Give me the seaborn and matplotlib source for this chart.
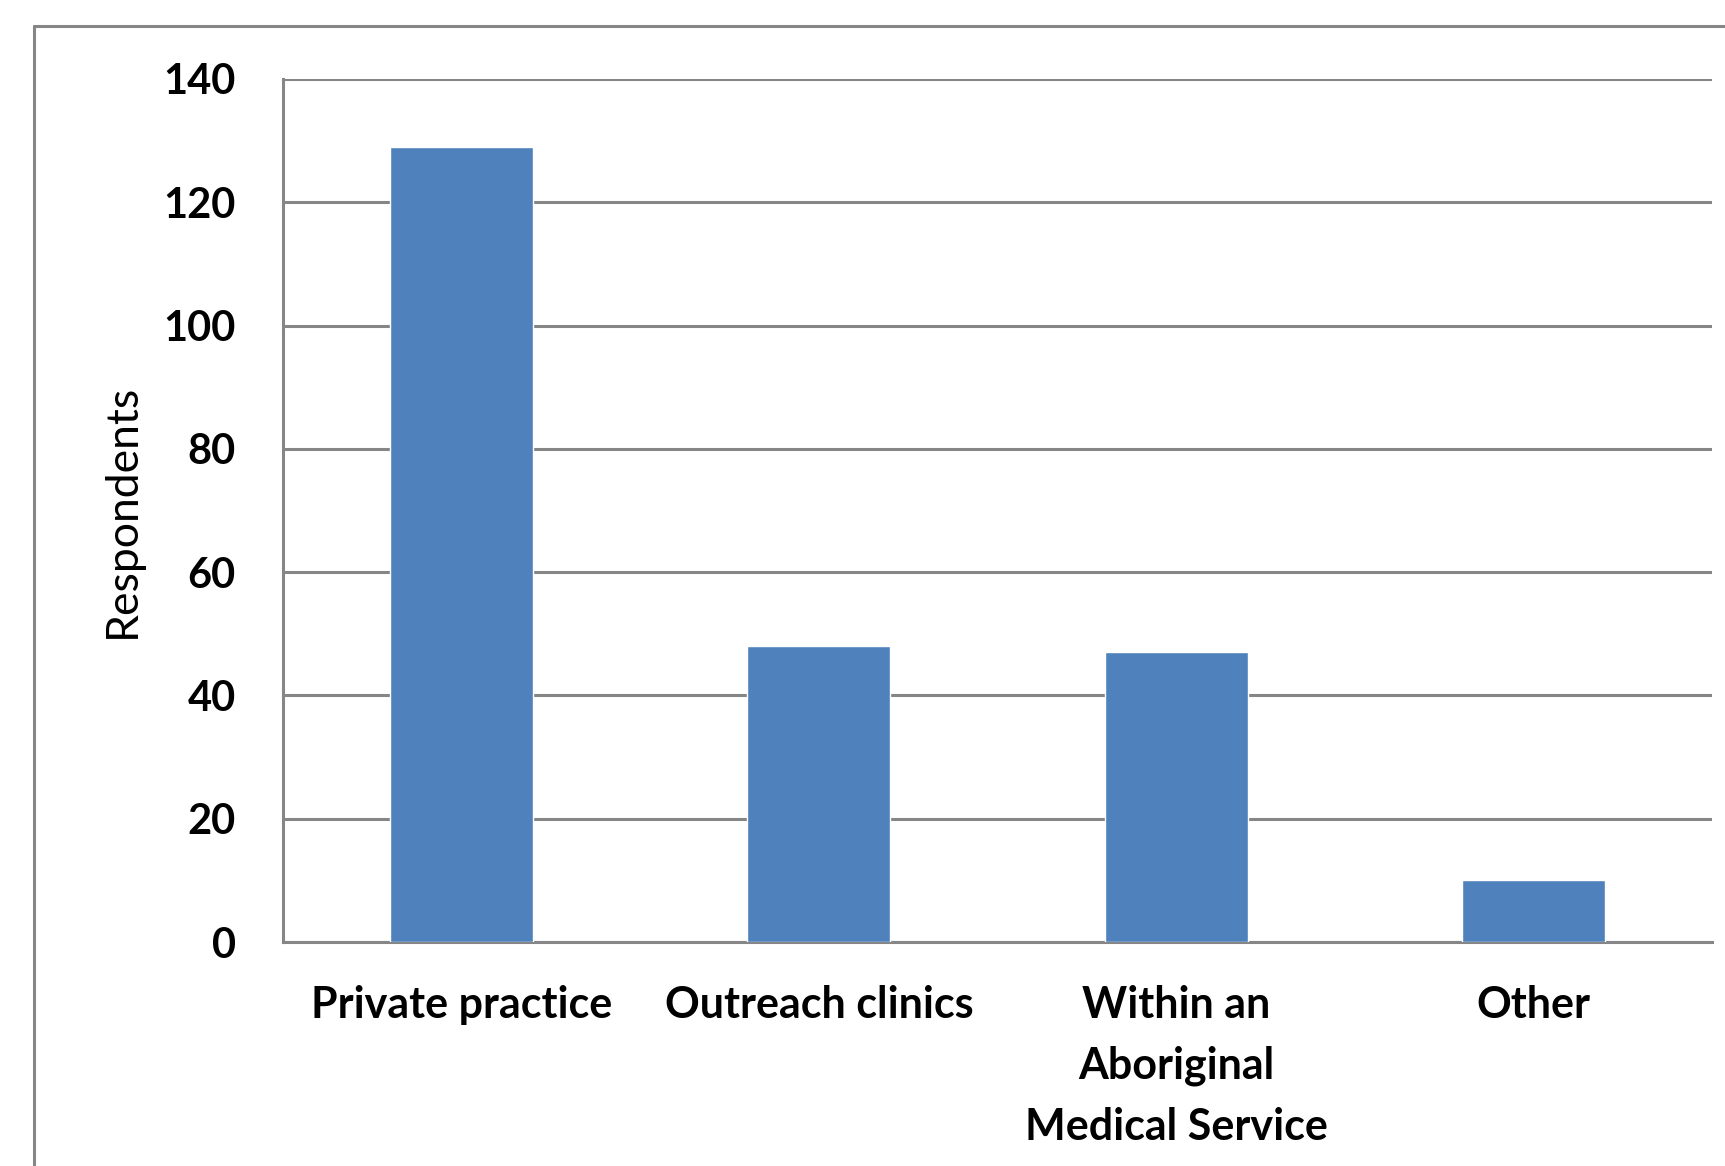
"""
Wykres słupkowy: miejsce pracy respondentów.
"""

import matplotlib
matplotlib.use('Agg')
import matplotlib.pyplot as plt
from matplotlib.lines import Line2D
from matplotlib.ticker import FixedLocator
import seaborn as sns
import pandas as pd

categories = ['Private practice', 'Outreach clinics',
              'Within an\nAboriginal\nMedical Service', 'Other']
respondents = [129, 48, 47, 10]
y_ticks = [0, 20, 40, 60, 80, 100, 120, 140]

BAR_COLOR = '#4F81BD'
GRID_COLOR = '#868686'

sns.set_style('white')
plt.rcParams['font.family'] = ['Lato', 'DejaVu Sans']

df = pd.DataFrame({'category': categories, 'respondents': respondents})

fig = plt.figure(figsize=(17.25, 11.66), dpi=100)
ax = fig.add_axes([283 / 1725, 1 - 942 / 1166, (1712 - 283) / 1725, (942 - 79) / 1166])

sns.barplot(data=df, x='category', y='respondents', color=BAR_COLOR,
            width=0.4, saturation=1, ax=ax, zorder=3)

ax.set_xlim(-0.5, len(categories) - 0.5)
ax.set_ylim(0, 140)
ax.set_yticks(y_ticks)
ax.yaxis.grid(True, color=GRID_COLOR, linewidth=2.2)
ax.set_axisbelow(True)

for side in ['top', 'right']:
    ax.spines[side].set_visible(False)
for side in ['left', 'bottom']:
    ax.spines[side].set_color(GRID_COLOR)
    ax.spines[side].set_linewidth(2.2)

# ticki kategorii na granicach
ax.xaxis.set_minor_locator(FixedLocator([i + 0.5 for i in range(-1, len(categories))]))
ax.tick_params(axis='x', which='major', length=0, pad=31, labelsize=31, labelcolor='black')
ax.tick_params(axis='x', which='minor', length=11, width=2.2, color=GRID_COLOR, direction='out')
ax.tick_params(axis='y', which='major', length=16, width=2.2, color=GRID_COLOR,
               direction='out', pad=18, labelsize=30, labelcolor='black')
for lbl in ax.get_yticklabels():
    lbl.set_fontweight('bold')
for lbl in ax.get_xticklabels():
    lbl.set_fontweight('bold')
    lbl.set_linespacing(1.63)

ax.set_xlabel('')
ax.set_ylabel('Respondents', fontsize=32, color='black')
ax.yaxis.set_label_coords(-0.098, 0.5)

# ramka obszaru wykresu (ucięta z prawej i z dołu)
x0, y0 = 34 / 1725, 1 - 26 / 1166
fig.add_artist(Line2D([x0, x0], [0, y0], color=GRID_COLOR, linewidth=2.2))
fig.add_artist(Line2D([x0, 1], [y0, y0], color=GRID_COLOR, linewidth=2.2))

plt.savefig('out.png', dpi=100)
plt.close()
